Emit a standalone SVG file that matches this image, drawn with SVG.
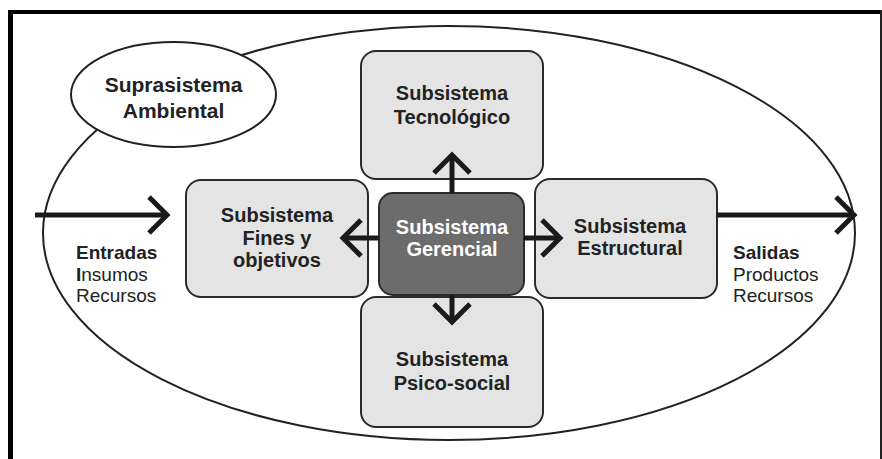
<svg xmlns="http://www.w3.org/2000/svg" width="882" height="459" viewBox="0 0 882 459">
  <style>
    .box { fill: #e4e4e4; stroke: #2b2b2b; stroke-width: 2; }
    .core { fill: #6c6c6c; stroke: #2b2b2b; stroke-width: 2; }
    .lbl { font-family: "Liberation Sans", Arial, sans-serif; font-size: 20px; font-weight: bold; fill: #222; text-anchor: middle; }
    .lbl-w { fill: #ffffff; }
    .io { font-family: "Liberation Sans", Arial, sans-serif; font-size: 19px; fill: #222; }
    .b { font-weight: bold; }
    .conn { fill: none; stroke: #1a1a1a; stroke-width: 5; marker-end: url(#chev); }
  </style>
  <defs>
    <marker id="chev" markerUnits="userSpaceOnUse" viewBox="-26 -22 32 44" markerWidth="32" markerHeight="44" refX="0" refY="0" orient="auto" overflow="visible">
      <path d="M-17,-18 L1,0 L-17,18" fill="none" stroke="#1a1a1a" stroke-width="5"/>
    </marker>
  </defs>

  <!-- page frame -->
  <g id="frame">
    <rect x="8" y="10" width="5" height="449" fill="#000"/>
    <rect x="8" y="10" width="874" height="4" fill="#000"/>
    <rect x="880" y="10" width="2" height="449" fill="#222"/>
  </g>

  <!-- environment boundary -->
  <g id="environment">
    <ellipse cx="449" cy="233" rx="406" ry="207" fill="none" stroke="#222" stroke-width="2"/>
  </g>

  <g id="suprasistema">
    <ellipse cx="173.5" cy="94.5" rx="102.5" ry="52.5" fill="#fff" stroke="#222" stroke-width="2"/>
    <text class="lbl" x="173.5" y="92" style="font-size:21px">Suprasistema</text>
    <text class="lbl" x="173.5" y="118" style="font-size:21px">Ambiental</text>
  </g>

  <g id="tecnologico">
    <rect class="box" x="361" y="51" width="182" height="128" rx="15"/>
    <text class="lbl" x="452" y="100">Subsistema</text>
    <text class="lbl" x="452" y="124">Tecnológico</text>
  </g>

  <g id="fines">
    <rect class="box" x="186" y="180" width="182" height="117" rx="15"/>
    <text class="lbl" x="277" y="222">Subsistema</text>
    <text class="lbl" x="277" y="245">Fines y</text>
    <text class="lbl" x="277" y="267">objetivos</text>
  </g>

  <g id="estructural">
    <rect class="box" x="535" y="179" width="182" height="119" rx="15"/>
    <text class="lbl" x="630" y="233">Subsistema</text>
    <text class="lbl" x="630" y="255">Estructural</text>
  </g>

  <g id="psicosocial">
    <rect class="box" x="361" y="297" width="182" height="130" rx="15"/>
    <text class="lbl" x="452" y="366">Subsistema</text>
    <text class="lbl" x="452" y="390">Psico-social</text>
  </g>

  <g id="gerencial">
    <rect class="core" x="379" y="193" width="145" height="102" rx="14"/>
    <text class="lbl lbl-w" x="452" y="234">Subsistema</text>
    <text class="lbl lbl-w" x="452" y="256">Gerencial</text>
  </g>

  <!-- connectors -->
  <g id="connectors">
    <path class="conn" d="M452,193 L452,156"/>
    <path class="conn" d="M452,295 L452,321"/>
    <path class="conn" d="M379,238 L344,238"/>
    <path class="conn" d="M524,238 L559,238"/>
    <path class="conn" d="M35,215 L166,215"/>
    <path class="conn" d="M717,215 L853,215"/>
  </g>

  <g id="entradas">
    <text class="io b" x="76" y="259">Entradas</text>
    <text class="io" x="76" y="281"><tspan class="b">I</tspan>nsumos</text>
    <text class="io" x="76" y="302">Recursos</text>
  </g>

  <g id="salidas">
    <text class="io b" x="733" y="259">Salidas</text>
    <text class="io" x="733" y="281">Productos</text>
    <text class="io" x="733" y="302">Recursos</text>
  </g>
</svg>
